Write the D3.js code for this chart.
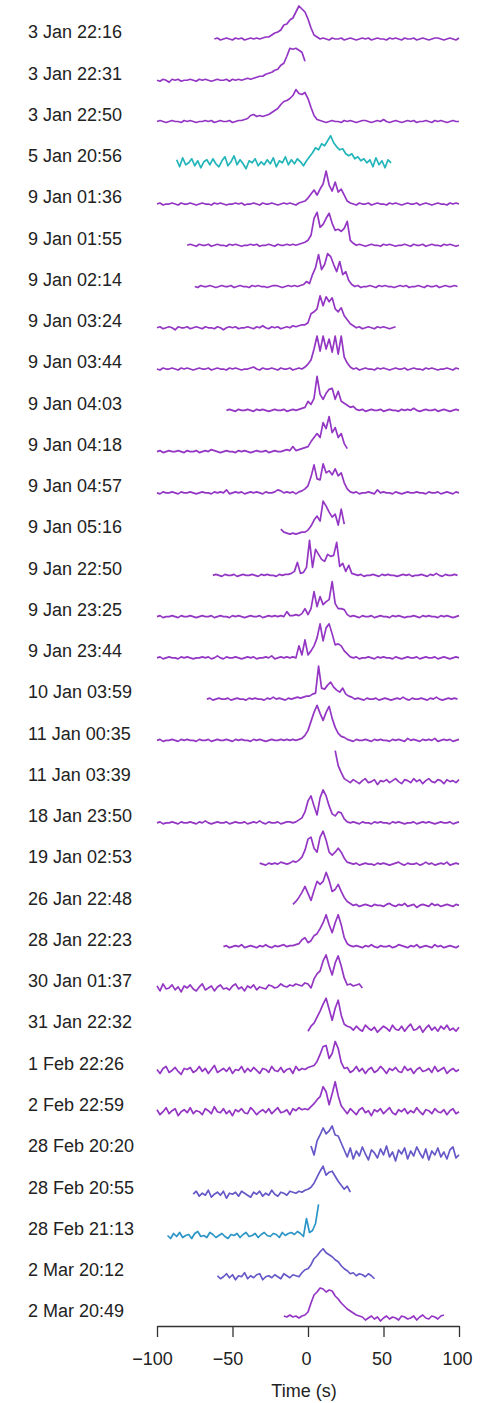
<!DOCTYPE html>
<html>
<head>
<meta charset="utf-8">
<script src="https://cdn.jsdelivr.net/npm/d3@7"></script>
<style>
  body { margin: 0; background: #fff; }
  text { font-family: "Liberation Sans", Arial, Helvetica, sans-serif; }
</style>
</head>
<body>
<svg id="chart" width="482" height="1403"></svg>
<script>
"use strict";


// one trace per observation, top to bottom
var labels = [
  "3 Jan 22:16", "3 Jan 22:31", "3 Jan 22:50", "5 Jan 20:56", "9 Jan 01:36",
  "9 Jan 01:55", "9 Jan 02:14", "9 Jan 03:24", "9 Jan 03:44", "9 Jan 04:03",
  "9 Jan 04:18", "9 Jan 04:57", "9 Jan 05:16", "9 Jan 22:50", "9 Jan 23:25",
  "9 Jan 23:44", "10 Jan 03:59", "11 Jan 00:35", "11 Jan 03:39", "18 Jan 23:50",
  "19 Jan 02:53", "26 Jan 22:48", "28 Jan 22:23", "30 Jan 01:37", "31 Jan 22:32",
  "1 Feb 22:26", "2 Feb 22:59", "28 Feb 20:20", "28 Feb 20:55", "28 Feb 21:13",
  "2 Mar 20:12", "2 Mar 20:49"
];

var groups = [
  "a", "a", "a", "b", "a", "a", "a", "a", "a", "a", "a", "a", "a", "a", "a", "a",
  "a", "a", "a", "a", "a", "a", "a", "a", "a", "a", "a", "c", "c", "d", "c", "a"
];

// time of first sample (s), samples every 2 s
var starts = [
  -62, -100, -100, -87, -100, -80, -75, -100, -100, -54, -100, -100, -18, -63, -100, -100,
  -67, -100, 18, -100, -32, -10, -56, -100, 0, -100, -100, 2, -76, -93, -60, -16
];
var step = 2;

var xTicks = [-100, -50, 0, 50, 100];

var v01 = [0,1,-1,0,1,0,-1,1,0,1,-1,0,1,0,1,0, 1,2,2,4,6,7,9,14,15,19,21,27,33,30,27,20,11,4,2,0,
  1,0,-1,1,0,0,1,-1,0,1,0,-1,0,1,0,1,-1,0,1,0,0,-1,1,0,1,0,-1,1,0,0,1,-1,0,1,0,-1,0,1,1,0,-1,0,1,0,-1,1];
var v02 = [0,-1,1,0,-2,1,0,1,-1,0,0,1,0,-1,1,0,1,0,-1,0,1,0,0,1,-1,1,0,1,0,1,2,1,2,3,
  4,4,6,7,8,10,11,15,17,24,32,31,32,30,28,19];
var v03 = [0,1,0,-1,0,1,0,0,-1,1,0,1,0,-1,0,0,1,0,1,-1,0,1,0,0,1,-1,0,1,1,
  2,3,6,7,5,6,5,6,7,9,11,13,17,20,21,23,26,32,28,27,29,23,14,6,2,1,
  0,-1,0,1,0,0,-1,1,0,1,0,-1,0,1,1,0,-1,0,1,0,2,0,-1,0,1,0,-1,0,1,0,1,-1,0,0,1,0,-1,1,0,1,0,-1,0,1,0,0];
var v04 = [3,-4,5,-2,0,4,-3,2,-5,1,3,-2,4,-1,-4,2,6,-3,1,7,-2,3,-1,-6,2,0,4,-3,1,-2,3,-1,5,-4,2,0,6,-2,3,-1,4,1,-3,
  2,6,10,15,13,19,17,22,27,20,16,13,14,9,7,9,4,6,2,4,
  0,3,-4,5,-2,2,-5,3,0];
var v05 = [0,1,-1,0,0,1,0,-1,1,0,0,1,0,-1,0,1,0,0,-1,1,0,1,0,-1,0,0,1,0,1,-1,0,0,1,0,-1,1,0,0,1,0,-1,0,1,0,1,0,-1,1,2,
  3,6,10,14,9,15,20,33,19,13,22,12,15,9,3,1,
  0,-1,1,0,0,1,-1,0,1,0,0,-1,1,0,1,0,-1,0,1,0,0,1,-1,0,1,0,-1,0,1,0,0,-1,1,0,1,0];
var v06 = [0,1,0,-1,1,0,0,1,-1,0,1,0,0,-1,1,0,1,0,-1,0,0,1,0,1,-1,0,0,1,0,-1,1,0,0,1,0,1,0,1,2,
  3,5,10,27,33,18,21,27,32,22,15,16,14,17,24,5,2,
  0,1,0,-1,0,1,0,0,-1,1,0,1,0,-1,0,0,1,0,-1,1,0,0,1,-1,0,1,0,0,-1,1,0,1,0,-1,0];
var v07 = [0,-1,1,0,0,1,0,-1,0,1,0,0,1,-1,0,1,0,0,-1,1,0,1,0,0,-1,0,1,1,0,-1,0,1,0,1,0,1,2,
  5,3,12,19,32,17,22,33,30,22,15,25,12,15,6,2,
  0,1,-1,0,0,1,0,-1,1,0,1,0,0,-1,0,1,0,1,-1,0,0,1,0,-1,1,0,0,1,-1,0,1,0,0,1,0];
var v08 = [0,1,-1,0,1,0,-2,1,0,0,1,-1,0,1,0,-1,1,0,0,-1,1,0,-2,0,1,0,1,-1,0,0,1,0,-1,1,0,2,0,-1,1,0,1,-1,0,1,0,2,1,2,3,
  3,5,14,16,19,32,22,31,26,30,19,16,20,12,8,4,2,
  0,1,-1,0,1,0,-1,1,0,1,0,-1,0,1];
var v09 = [0,-1,1,0,0,1,0,-1,1,0,1,0,-1,0,1,0,0,1,-1,0,1,0,0,-1,1,0,1,0,-1,0,0,1,2,0,-1,1,0,0,1,0,-1,1,0,0,1,-1,0,1,0,2,
  5,9,20,33,18,33,20,30,17,33,15,33,12,6,2,
  0,1,-1,0,1,0,0,-1,1,0,1,0,-1,0,1,0,0,1,-1,0,1,0,0,-1,1,0,1,0,-1,0,0,1,0,-1,1,0];
var v10 = [0,1,0,-1,1,0,0,1,0,-1,1,0,1,0,-1,0,1,0,0,1,-1,0,1,0,1,2,
  3,9,6,12,34,16,11,17,21,22,11,19,9,7,5,3,4,1,
  0,1,-1,0,1,0,0,1,-1,0,1,0,0,-1,1,0,1,0,2,0,-1,0,1,0,0,1,-1,0,1,0,-1,0,1,0];
var v11 = [0,1,-1,0,1,0,0,1,0,-1,1,0,0,1,-1,0,1,0,2,1,0,-1,0,1,0,0,-1,1,0,1,0,-1,0,1,0,0,1,-1,0,1,0,0,1,2,1,
  5,1,2,3,4,5,10,14,18,14,29,23,35,19,24,14,18,8,3];
var v12 = [0,-1,1,0,0,1,0,-1,1,0,0,1,0,-1,0,1,0,0,-1,1,0,1,0,3,-1,0,1,0,1,-1,0,1,0,1,0,-1,1,0,0,1,3,2,0,1,0,1,-1,1,2,
  4,7,16,28,14,13,29,20,22,18,24,17,20,10,4,1,
  0,1,-1,0,0,1,0,-1,3,0,1,0,0,-1,1,0,-1,0,1,0,0,1,0,0,-1,1,0,0,1,-1,0,1,0,-1,1,0];
var v13 = [5,2,1,0,1,0,1,2,2,4,8,14,18,13,33,28,22,17,20,9,25,10];
var v14 = [0,1,0,-1,1,0,0,1,-1,0,1,0,0,1,0,-1,1,0,1,0,0,-1,1,0,1,1,
  2,4,13,2,3,8,35,8,26,21,16,14,21,19,20,33,9,12,4,10,2,1,
  0,1,-1,0,0,1,0,-1,1,0,1,0,0,-1,0,1,0,1,-1,0,0,1,0,-1,1,0,2,0,-1,1,0,0,1,0];
var v15 = [0,1,-1,0,0,1,0,-1,1,0,0,1,0,-1,0,1,0,0,1,-1,0,1,0,0,-1,1,0,1,0,-1,0,1,0,0,1,-1,0,1,0,1,0,1,0,
  5,1,1,2,1,3,8,2,8,25,10,20,12,15,17,35,13,8,8,7,2,
  0,1,0,-1,1,0,0,1,-1,0,1,0,0,-1,1,0,1,0,-1,0,0,1,0,-1,1,0,1,0,0,-1,1,0,1,0,-1,0,1];
var v16 = [0,1,-1,0,1,0,0,-1,1,0,1,0,-1,0,0,1,0,1,-1,0,2,0,-1,1,0,0,1,0,-1,0,1,0,1,-1,0,0,1,0,2,-1,0,1,0,1,0,1,0,
  12,3,18,3,7,12,20,34,17,30,34,24,13,14,12,7,4,1,
  0,1,-1,0,0,1,0,-1,1,0,1,0,0,-1,1,0,-1,0,1,0,0,1,-1,0,1,0,0,1,-1,0,1,0,-1,0,1,0];
var v17 = [0,1,-1,0,1,0,0,1,-1,0,1,0,0,-1,1,0,1,0,0,-1,1,0,2,0,1,0,-1,1,0,1,2,1,
  2,3,3,5,6,33,11,10,14,17,12,9,7,11,5,3,2,
  0,1,0,-1,1,0,0,1,-1,0,1,0,-1,0,1,0,2,0,-1,1,0,0,1,0,-1,1,0,2,0,-1,0,1,0,1,0];
var v18 = [0,1,-1,0,0,1,0,-1,1,0,1,0,0,-1,1,0,0,1,-1,0,1,0,0,1,0,-1,1,0,1,0,0,-1,1,0,1,0,-1,0,1,0,0,1,0,1,0,1,0,1,
  2,5,10,19,28,35,27,20,28,34,22,13,7,4,3,1,
  0,-1,1,0,0,1,0,-1,1,0,1,0,0,-1,1,0,1,0,-1,2,0,1,0,-1,1,0,1,0,2,-1,0,1,0,1,-1,0,1];
var v19 = [31,16,9,3,1,
  -1,2,0,-2,1,3,-1,0,2,-3,1,0,2,-1,1,3,0,-2,2,1,-1,3,0,2,-2,1,3,0,-1,2,1,-2,2,0,1,-1,2];
var v20 = [0,1,-1,0,0,1,0,-1,1,0,0,1,0,-1,1,0,2,0,-1,0,1,0,0,1,-1,0,1,0,0,1,-1,0,1,0,2,0,-1,1,0,0,1,-1,0,1,1,0,1,
  3,5,11,22,27,17,8,25,33,27,17,9,7,11,10,4,1,
  0,1,0,-1,1,0,0,-1,1,0,1,0,0,-1,1,0,1,0,-1,0,0,1,-1,0,1,0,1,0,-1,0,1,0,0,1,-1,0,1];
var v21 = [1,0,-1,1,0,1,0,2,1,0,1,
  3,2,4,7,14,25,27,16,12,27,33,24,12,9,12,16,12,6,2,1,
  0,1,-1,0,1,0,0,-1,1,0,1,0,-1,0,1,2,0,-1,1,0,0,1,-1,0,2,0,1,-1,0,1,0,2,-1,0,1,0];
var v22 = [1,4,8,13,19,12,5,15,24,21,24,33,25,14,16,21,14,8,4,2,
  0,1,-1,0,1,0,-1,1,0,0,-1,1,2,0,-1,1,0,2,-1,0,1,-2,0,1,0,-1,2,0,1,-1,0,1,0,-1,1,0];
var v23 = [0,1,-1,0,1,0,2,-1,0,1,0,-1,1,0,2,0,-1,1,0,1,2,0,1,
  1,2,3,7,9,4,6,11,13,18,24,32,22,14,24,32,22,9,3,1,
  0,1,0,-1,1,0,2,0,-1,1,0,0,1,-1,0,2,1,0,-1,1,0,2,-1,0,1,0,-1,2,0,1,-1,0,1,0,-1,1];
var v24 = [2,-3,4,-1,0,3,-2,1,-4,2,0,3,-1,-3,1,4,-2,0,2,-3,1,3,-1,0,-2,2,4,-1,1,-3,2,0,3,-2,1,0,-1,3,2,0,1,4,2,1,3,2,4,3,2,
  5,4,0,9,14,17,27,33,22,13,25,32,22,10,3,4,2,3,4,0];
var v25 = [-2,3,6,12,18,25,31,20,9,21,29,14,5,3,
  2,-1,3,0,-2,4,1,-1,2,-3,0,3,1,-2,4,0,-1,3,-2,2,5,-1,0,3,-3,1,4,-1,2,-2,3,0,4,-1,1,-2,2];
var v26 = [1,-3,2,4,-2,0,3,-1,-4,2,1,3,-2,0,4,-1,2,-3,1,5,-2,0,2,-1,3,-3,1,0,4,-2,2,-1,3,0,-3,2,1,-2,4,0,-1,3,-2,1,2,-3,4,0,2,1,
  3,4,5,9,16,24,25,12,17,29,22,8,2,
  3,-2,0,4,-1,2,-3,1,3,-2,0,4,1,-3,2,0,3,-1,-2,4,0,2,-3,1,3,-1,0,2,-2,4,-1,1,3,-3,0,2,-1,1];
var v27 = [2,-3,0,4,-2,1,3,-4,0,2,-1,4,-2,1,0,-3,3,1,-2,5,0,-1,3,-2,1,-4,2,0,3,-1,-2,4,1,-3,0,2,-1,3,-2,1,4,-1,0,2,-3,3,1,4,2,3,
  2,5,8,12,15,25,20,7,18,30,16,6,2,
  -2,3,0,-3,2,4,-1,1,-4,2,0,3,-2,1,4,-1,-3,2,0,3,-2,1,-1,4,0,-3,2,1,-2,3,0,-1,2,-3,1,3,-2,0];
var v28 = [7,-2,12,18,25,19,22,27,18,17,10,3,
  -4,5,-6,2,-3,6,-1,-7,3,0,-5,4,-2,7,-4,1,-8,3,-1,5,-6,2,-3,6,0,-5,4,-7,2,-2,5,-4,1,-6,3,6,-5,-2];
var v29 = [0,3,-2,1,-1,4,-3,0,2,-1,3,-4,1,0,2,-2,3,1,-1,-3,2,0,3,-2,1,-1,4,0,-2,2,1,-1,3,2,1,3,2,
  4,5,7,11,17,23,28,19,22,23,18,13,9,5,8,2];
var v30 = [0,-3,2,-1,3,-2,0,1,-3,2,4,-1,0,-2,3,1,-2,0,2,-1,-3,1,0,2,-2,1,3,-1,0,2,-2,1,3,0,-1,2,1,-2,3,0,2,3,1,4,2,-1,
  17,3,5,12,31];
var v31 = [1,-2,0,3,-1,2,-3,1,0,4,-2,1,-1,2,3,-3,0,1,-1,2,0,-2,3,1,-1,2,1,0,
  4,7,8,12,18,21,25,28,24,22,20,17,15,11,8,6,3,4,1,3,2,0,3,1,-2];
var v32 = [2,1,3,1,2,0,2,3,6,15,23,26,30,29,26,28,27,22,19,15,12,9,7,5,3,2,
  1,-2,0,2,-1,1,-3,0,2,-1,1,0,-2,2,1,-1,0,2,-2,1,3,0,-1,2,1,-1,2,3];

var series = [v01, v02, v03, v04, v05, v06, v07, v08, v09, v10, v11, v12, v13, v14, v15, v16,
  v17, v18, v19, v20, v21, v22, v23, v24, v25, v26, v27, v28, v29, v30, v31, v32];


var svg = d3.select("#chart");

var x = d3.scaleLinear().domain([-100, 100]).range([157, 459]);
var row = d3.scalePoint().domain(labels).range([39, 1318]);
var amp = d3.scaleLinear().domain([0, 35]).range([0, 35]);
var colour = d3.scaleOrdinal()
  .domain(["a", "b", "c", "d"])
  .range(["#9436c4", "#22b5b9", "#6558c7", "#2b95c8"]);


function drawTraces() {
  var traces = series.map(function (vals, i) {
    var base = row(labels[i]);
    return {
      label: labels[i],
      group: groups[i],
      points: vals.map(function (v, k) {
        return { t: starts[i] + k * step, y: base - amp(v) };
      })
    };
  });

  var line = d3.line()
    .x(function (d) { return x(d.t); })
    .y(function (d) { return d.y; });

  svg.append("g").selectAll("path")
    .data(traces)
    .enter().append("path")
      .attr("fill", "none")
      .attr("stroke", function (d) { return colour(d.group); })
      .attr("stroke-width", 1.7)
      .attr("stroke-linejoin", "round")
      .attr("d", function (d) { return line(d.points); });

  svg.append("g").selectAll("text")
    .data(labels)
    .enter().append("text")
      .attr("x", 28)
      .attr("y", function (d) { return row(d) - 7; })
      .attr("dy", "0.35em")
      .attr("font-size", 18)
      .attr("fill", "#222")
      .text(function (d) { return d; });
}


function drawAxis() {
  var axis = d3.axisBottom(x)
    .tickValues(xTicks)
    .tickSize(11)
    .tickSizeOuter(0)
    .tickPadding(15);

  var g = svg.append("g")
    .attr("transform", "translate(0,1326)")
    .call(axis);

  g.attr("font-size", 18)
    .attr("font-family", null);
  g.select(".domain")
    .attr("stroke", "#333")
    .attr("stroke-width", 1.3);
  g.selectAll(".tick line")
    .attr("stroke", "#333")
    .attr("stroke-width", 1.3);
  g.selectAll(".tick text")
    .attr("fill", "#222")
    .attr("dx", function (d) { return d < 0 ? -5 : -2; });

  svg.append("text")
    .attr("x", 304)
    .attr("y", 1397)
    .attr("text-anchor", "middle")
    .attr("font-size", 18)
    .attr("fill", "#222")
    .text("Time (s)");
}


drawTraces();
drawAxis();
</script>
</body>
</html>
